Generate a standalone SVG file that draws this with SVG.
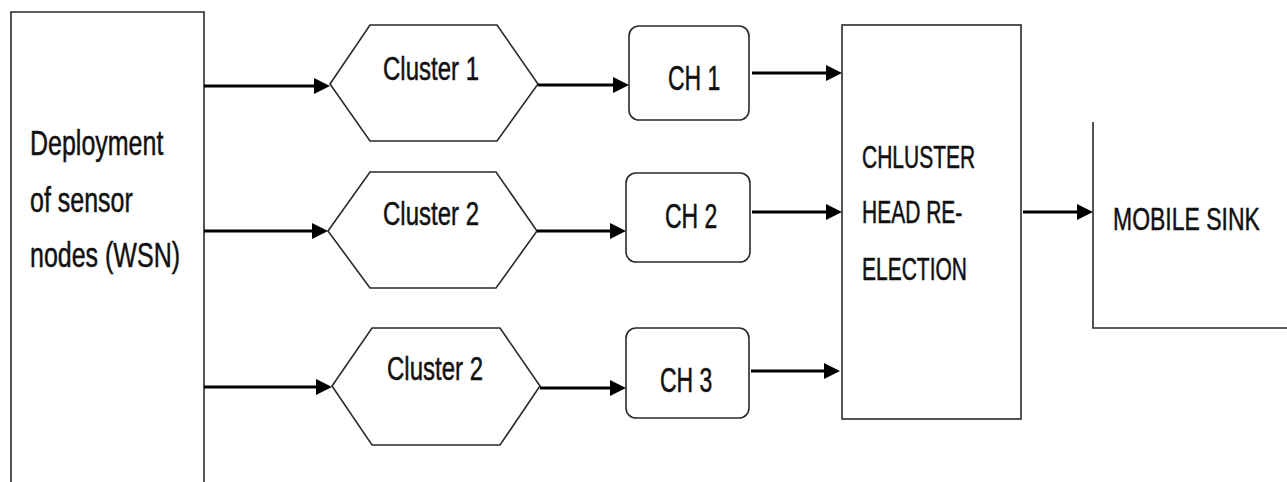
<svg xmlns="http://www.w3.org/2000/svg" width="1287" height="482" viewBox="0 0 1287 482">
  <style>
    .shape { fill: #ffffff; stroke: #2a2a2a; stroke-width: 1.6; }
    .open { fill: none; stroke: #2a2a2a; stroke-width: 1.6; }
    .flow { fill: none; stroke: #000000; stroke-width: 3.2; marker-end: url(#head); }
    .label { font-family: "Liberation Sans", Arial, sans-serif; fill: #111111; stroke: #111111; stroke-width: 0.35; }
  </style>
  <defs>
    <marker id="head" markerUnits="userSpaceOnUse" viewBox="0 0 16 16" refX="5" refY="8" markerWidth="16" markerHeight="16" orient="auto">
      <path d="M0,0 L16,8 L0,16 z" fill="#000000"/>
    </marker>
  </defs>
  <rect width="1287" height="482" fill="#ffffff"/>

  <!-- Deployment block (runs off the bottom edge) -->
  <g id="deployment">
    <path class="open" d="M11,482 V12 H204 V482"/>
    <g class="label" font-size="25">
      <text transform="translate(30,155) scale(1,1.4)">Deployment</text>
      <text transform="translate(30,212) scale(1,1.4)">of sensor</text>
      <text transform="translate(30,267) scale(1,1.4)">nodes (WSN)</text>
    </g>
  </g>

  <!-- Clusters -->
  <g id="cluster1">
    <polygon class="shape" points="330,84 370,25 497,25 538,84 497,141 370,141"/>
    <text class="label" font-size="24" transform="translate(383,80) scale(1,1.42)">Cluster 1</text>
  </g>
  <g id="cluster2">
    <polygon class="shape" points="328,231 370,172 496,172 537,231 496,288 370,288"/>
    <text class="label" font-size="24" transform="translate(383,225) scale(1,1.42)">Cluster 2</text>
  </g>
  <g id="cluster3">
    <polygon class="shape" points="332,386 372,328 500,328 540,386 500,445 372,445"/>
    <text class="label" font-size="24" transform="translate(387,380) scale(1,1.42)">Cluster 2</text>
  </g>

  <!-- Cluster heads -->
  <g id="ch1">
    <rect class="shape" x="629" y="26" width="120" height="94" rx="10"/>
    <text class="label" font-size="23" transform="translate(668,90) scale(1,1.5)">CH 1</text>
  </g>
  <g id="ch2">
    <rect class="shape" x="626" y="173" width="124" height="89" rx="10"/>
    <text class="label" font-size="23" transform="translate(665,228) scale(1,1.5)">CH 2</text>
  </g>
  <g id="ch3">
    <rect class="shape" x="626" y="328" width="123" height="90" rx="10"/>
    <text class="label" font-size="23" transform="translate(660,392) scale(1,1.5)">CH 3</text>
  </g>

  <!-- Re-election block -->
  <g id="reelection">
    <rect class="shape" x="842" y="25" width="179" height="394"/>
    <g class="label" font-size="21">
      <text transform="translate(862,168) scale(1,1.5)">CHLUSTER</text>
      <text transform="translate(862,223) scale(1,1.5)">HEAD RE-</text>
      <text transform="translate(862,280) scale(1,1.5)">ELECTION</text>
    </g>
  </g>

  <!-- Mobile sink (open top and right) -->
  <g id="mobile-sink">
    <path class="open" d="M1093,122 V328 H1287"/>
    <text class="label" font-size="23" transform="translate(1113,230) scale(1,1.35)">MOBILE SINK</text>
  </g>

  <!-- Connectors -->
  <g id="connectors">
    <path class="flow" d="M204,86 H319"/>
    <path class="flow" d="M204,231 H317"/>
    <path class="flow" d="M204,387 H321"/>
    <path class="flow" d="M538,85 H618"/>
    <path class="flow" d="M537,231 H615"/>
    <path class="flow" d="M540,388 H615"/>
    <path class="flow" d="M752,73 H831"/>
    <path class="flow" d="M752,212 H831"/>
    <path class="flow" d="M751,371 H829"/>
    <path class="flow" d="M1023,212 H1082"/>
  </g>
</svg>
